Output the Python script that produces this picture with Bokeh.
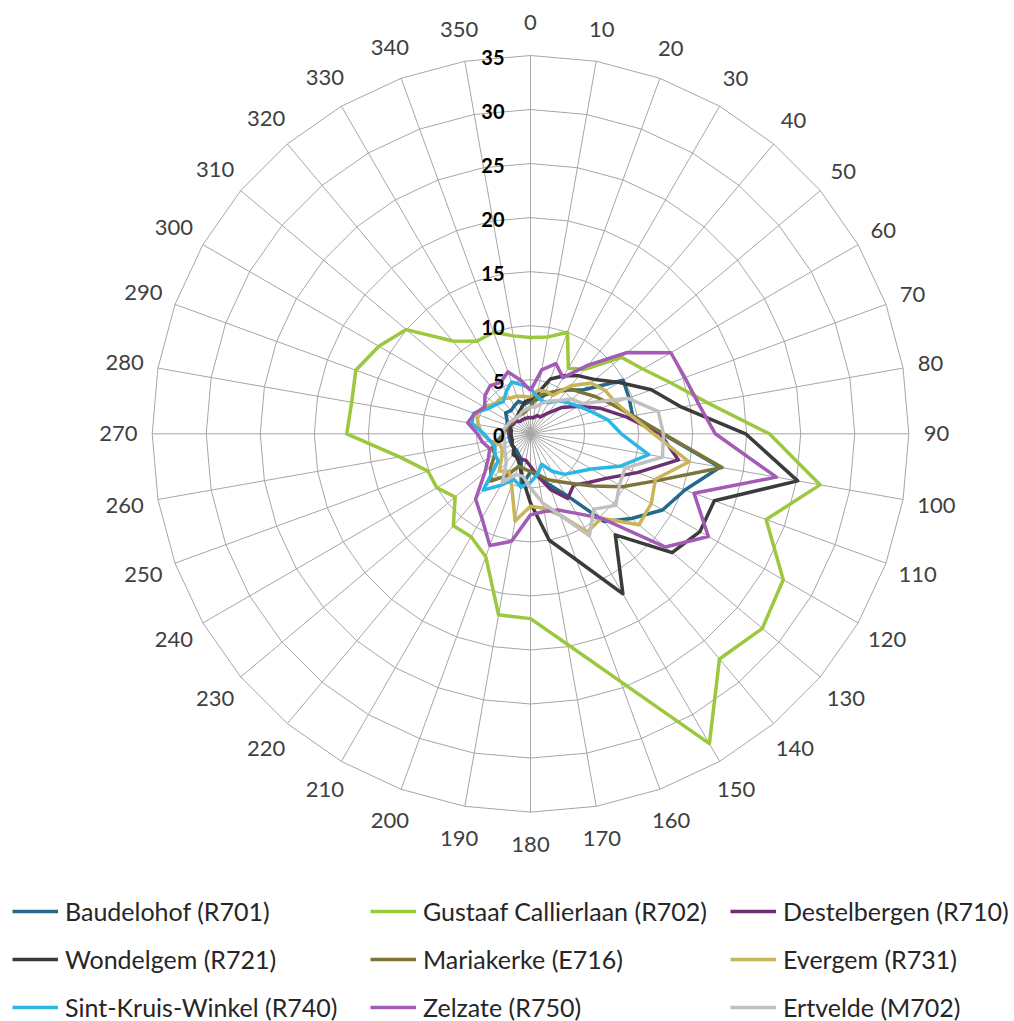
import numpy as np
from bokeh.plotting import figure
from bokeh.models import Range1d, Legend, LegendItem
from bokeh.core.properties import value
from bokeh.embed import file_html
from bokeh.resources import INLINE

# ---------------- data ----------------
directions = list(range(0, 360, 10))
direction_labels = [str(d) for d in directions]
ring_values = [5, 10, 15, 20, 25, 30, 35]
value_labels = ["0", "5", "10", "15", "20", "25", "30", "35"]

series_names = [
    "Baudelohof (R701)", "Gustaaf Callierlaan (R702)", "Destelbergen (R710)",
    "Wondelgem (R721)", "Mariakerke (E716)", "Evergem (R731)",
    "Sint-Kruis-Winkel (R740)", "Zelzate (R750)", "Ertvelde (M702)",
]

baudelohof = [3.0, 3.2, 3.8, 4.5, 5.3, 6.3, 9.9, 9.7, 9.6, 12.2, 17.8, 15.2, 14.1, 12.2, 10.6, 6.5, 5.0, 4.0,
              3.5, 5.0, 2.5, 2.2, 2.0, 2.0, 2.0, 2.0, 2.0, 2.0, 2.0, 2.3, 2.5, 3.0, 2.8, 3.0, 3.2, 2.8]
gustaaf = [8.9, 9.1, 10.0, 7.0, 7.8, 11.0, 12.0, 13.8, 16.6, 22.1, 27.2, 23.2, 27.0, 28.0, 27.2, 33.1, 24.4, 19.8,
           17.1, 17.0, 12.1, 11.0, 11.1, 9.1, 10.0, 10.1, 12.3, 17.0, 16.8, 17.2, 16.2, 15.0, 11.2, 9.9, 10.0, 9.2]
destelbergen = [1.5, 1.5, 1.8, 1.8, 2.5, 3.8, 5.1, 6.9, 9.0, 12.0, 13.9, 10.5, 8.2, 7.0, 6.2, 6.9, 5.5, 4.0,
                3.0, 2.5, 2.5, 2.5, 2.3, 2.0, 2.0, 1.8, 1.8, 2.0, 2.0, 2.0, 1.8, 1.8, 1.5, 1.5, 1.5, 1.5]
wondelgem = [3.2, 3.8, 5.4, 6.2, 7.0, 7.8, 9.5, 11.9, 14.2, 19.9, 25.1, 18.1, 18.1, 17.1, 12.2, 17.1, 12.4, 10.0,
             6.4, 4.2, 3.0, 2.5, 2.5, 2.0, 2.0, 1.8, 1.8, 1.8, 1.8, 2.0, 2.0, 2.0, 2.0, 2.2, 2.5, 3.0]
mariakerke = [2.5, 3.5, 4.0, 4.5, 5.5, 6.0, 6.9, 8.0, 9.6, 12.3, 18.0, 12.6, 9.8, 7.5, 6.0, 5.1, 4.5, 3.8,
              3.5, 3.3, 3.2, 4.5, 5.7, 4.8, 3.8, 3.8, 3.0, 2.5, 2.3, 2.2, 2.0, 2.0, 2.0, 2.0, 2.0, 2.2]
evergem = [3.4, 4.1, 4.2, 4.1, 5.8, 7.3, 8.0, 8.4, 9.5, 11.4, 14.9, 12.3, 12.9, 13.1, 10.2, 10.5, 8.0, 7.0,
           6.7, 8.2, 5.1, 4.0, 4.5, 3.5, 3.0, 3.0, 3.8, 4.5, 4.9, 5.3, 5.0, 4.3, 4.3, 3.8, 3.7, 3.5]
sint_kruis_winkel = [4.2, 3.5, 3.2, 3.3, 4.0, 4.5, 5.1, 6.0, 7.3, 8.4, 11.1, 8.8, 6.5, 5.5, 4.9, 4.0, 3.0, 3.8,
                     4.5, 5.0, 4.5, 5.5, 6.8, 3.9, 3.8, 3.5, 3.8, 4.3, 5.5, 5.6, 4.6, 4.2, 3.9, 4.5, 5.1, 4.6]
zelzate = [4.0, 6.0, 6.9, 6.0, 8.3, 11.7, 15.0, 15.2, 15.8, 17.1, 23.1, 16.1, 19.0, 16.3, 10.2, 8.5, 7.5, 7.3,
           7.5, 10.1, 11.0, 9.0, 7.9, 5.5, 4.5, 4.0, 4.5, 4.9, 5.9, 5.5, 4.9, 5.5, 5.8, 5.5, 6.1, 5.0]
ertvelde = [2.5, 2.5, 3.0, 3.5, 4.0, 5.0, 5.6, 9.6, 12.0, 12.3, 12.4, 9.3, 9.5, 10.3, 9.1, 10.9, 8.0, 6.5,
            5.0, 4.0, 4.0, 5.2, 3.5, 3.0, 2.8, 2.5, 2.5, 2.5, 2.5, 2.3, 2.2, 2.0, 2.0, 2.0, 2.2, 2.3]

series_values = [baudelohof, gustaaf, destelbergen, wondelgem, mariakerke,
                 evergem, sint_kruis_winkel, zelzate, ertvelde]
series_colors = ["#22698a", "#9bc83c", "#6e2f72", "#3b3b3b", "#7d7538",
                 "#c9b458", "#2cb6e8", "#a35bb5", "#c0c0c0"]

# ---------------- layout ----------------
W, H = 1014, 1021
CX, CY = 530.0, 433.3       # centre of the radar, px from top-left
R_PX = 378.3                 # outer ring radius in px
R_MAX = 35.0
S = R_PX / R_MAX             # px per unit
FONT = "Lato"

p = figure(width=W, height=H,
           x_range=Range1d(-CX / S, (W - CX) / S),
           y_range=Range1d(-(H - CY) / S, CY / S),
           output_backend="svg", toolbar_location=None, min_border=0,
           x_axis_location=None, y_axis_location=None)
p.grid.visible = False
p.outline_line_color = None
p.background_fill_color = "white"

theta = np.deg2rad(np.array(directions, dtype=float))
sin_t, cos_t = np.sin(theta), np.cos(theta)

# polygon gridlines
for rv in ring_values:
    xs = list(rv * sin_t) + [rv * sin_t[0]]
    ys = list(rv * cos_t) + [rv * cos_t[0]]
    p.line(xs, ys, line_color="#a6a6a6", line_width=1)

# spokes
p.segment(x0=np.zeros(len(directions)), y0=np.zeros(len(directions)),
          x1=R_MAX * sin_t, y1=R_MAX * cos_t, line_color="#a6a6a6", line_width=1)

# series
renderers = []
for name, vals, col in zip(series_names, series_values, series_colors):
    v = np.array(vals, dtype=float)
    xs = list(v * sin_t) + [v[0] * sin_t[0]]
    ys = list(v * cos_t) + [v[0] * cos_t[0]]
    r = p.line(xs, ys, line_color=col, line_width=3.5, line_join="round")
    renderers.append(r)

# value axis labels (bold, left of the 0-direction spoke)
val_nums = [float(s) for s in value_labels]
p.text(x=[-26 / S] * len(val_nums), y=[v - 2 / S for v in val_nums], text=value_labels,
       text_font=value(FONT), text_font_size="20px", text_font_style="bold",
       text_align="right", text_baseline="middle", text_color="#000000")

# direction labels around the outside
digit_w = 12.6
lx, ly = [], []
for lab, s, c in zip(direction_labels, sin_t, cos_t):
    w = digit_w * len(lab)
    off = R_PX + 15 + np.sqrt(((w / 2) * s) ** 2 + (17.6 * c) ** 2)
    lx.append(off * s / S)
    ly.append(off * c / S)
p.text(x=lx, y=ly, text=direction_labels, text_font=value(FONT), text_font_size="22px",
       text_align="center", text_baseline="middle", text_color="#404040")

# legend: three columns
col_x = [12, 370, 730]
for ci in range(3):
    items = [LegendItem(label=series_names[i], renderers=[renderers[i]]) for i in range(ci, 9, 3)]
    leg = Legend(items=items, location=(col_x[ci], -1), orientation="vertical",
                 padding=0, margin=0, spacing=18, glyph_width=46, glyph_height=24,
                 label_height=24, label_standoff=7,
                 label_text_font=FONT, label_text_font_size="25px", label_text_color="#262626",
                 background_fill_alpha=0, border_line_alpha=0)
    p.add_layout(leg)

open("out.html", "w").write(file_html(p, INLINE))
